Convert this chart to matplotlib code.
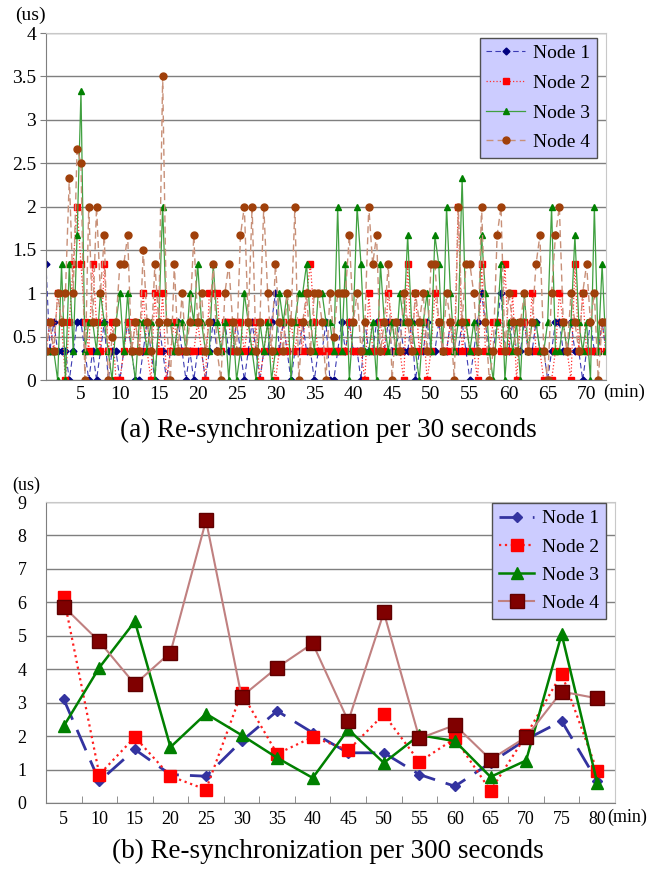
import numpy as np
import matplotlib
matplotlib.use("Agg")
import matplotlib.pyplot as plt

plt.rcParams['font.family'] = ['Liberation Serif', 'DejaVu Serif']

# ---- (a) re-sync every 30 s: offsets, in units of 1/3 us ----
t30 = np.arange(1, 146) * 0.5          # minutes, one sample per 30 s
node1_a = [4, 1, 2, 1, 1, 1, 0, 1, 2, 2,
           1, 0, 1, 0, 1, 2, 0, 1, 1, 0,
           1, 2, 1, 0, 0, 1, 2, 1, 0, 2,
           1, 0, 1, 1, 2, 1, 0, 1, 0, 1,
           1, 0, 1, 2, 1, 1, 2, 1, 1, 2,
           1, 0, 1, 2, 1, 0, 1, 1, 2, 3,
           1, 2, 1, 0, 1, 1, 2, 1, 1, 0,
           1, 1, 2, 0, 0, 1, 2, 1, 2, 1,
           1, 0, 2, 1, 1, 2, 1, 1, 2, 1,
           1, 2, 1, 1, 2, 0, 1, 1, 2, 1,
           1, 2, 1, 1, 2, 1, 1, 2, 1, 0,
           1, 2, 3, 2, 1, 1, 2, 3, 1, 1,
           2, 1, 1, 2, 1, 1, 2, 1, 1, 0,
           1, 2, 2, 1, 1, 2, 1, 1, 0, 1,
           2, 1, 1, 2, 1]
node2_a = [1, 2, 1, 3, 2, 0, 2, 4, 6, 4,
           2, 1, 4, 2, 1, 4, 1, 2, 0, 0,
           1, 2, 1, 2, 1, 3, 1, 0, 3, 1,
           3, 0, 1, 2, 1, 1, 1, 1, 1, 2,
           1, 0, 3, 3, 3, 1, 2, 2, 1, 2,
           2, 1, 2, 1, 2, 0, 1, 2, 1, 0,
           1, 2, 1, 2, 1, 2, 1, 3, 4, 2,
           1, 1, 1, 1, 1, 1, 1, 1, 2, 1,
           1, 1, 0, 3, 1, 1, 2, 1, 3, 2,
           1, 1, 0, 4, 1, 3, 1, 2, 0, 1,
           3, 2, 1, 1, 2, 1, 6, 1, 2, 1,
           1, 0, 4, 1, 1, 2, 2, 1, 4, 1,
           3, 0, 2, 2, 1, 3, 1, 1, 0, 0,
           0, 1, 3, 2, 1, 0, 4, 1, 3, 1,
           1, 1, 1, 2, 1]
node3_a = [1, 1, 1, 0, 4, 0, 4, 1, 5, 10,
           1, 2, 2, 1, 3, 2, 1, 0, 2, 3,
           1, 3, 1, 0, 2, 2, 1, 2, 0, 2,
           6, 2, 2, 1, 2, 2, 1, 3, 2, 4,
           2, 1, 1, 4, 2, 1, 2, 0, 2, 0,
           1, 3, 2, 1, 0, 2, 1, 2, 0, 1,
           3, 2, 3, 0, 2, 3, 3, 4, 2, 1,
           3, 3, 2, 2, 1, 6, 1, 4, 0, 2,
           6, 4, 1, 1, 2, 0, 4, 2, 1, 2,
           1, 3, 2, 5, 2, 1, 0, 2, 3, 1,
           5, 4, 1, 6, 3, 1, 2, 7, 2, 1,
           2, 1, 5, 3, 1, 0, 2, 4, 0, 2,
           1, 2, 0, 3, 1, 2, 2, 1, 1, 2,
           6, 1, 1, 2, 1, 2, 5, 2, 1, 2,
           0, 6, 1, 4, 1]
node4_a = [1, 2, 1, 3, 2, 3, 7, 3, 8, 7.5,
           0, 6, 2, 6, 3, 5, 0, 1.5, 2, 4,
           4, 5, 1, 2, 1, 4.5, 2, 1, 4, 2,
           10.5, 2, 0, 4, 1, 3, 1, 2, 5, 2,
           3, 1, 2, 4, 1, 0, 3, 4, 2, 1,
           5, 6, 2, 6, 1, 2, 6, 3, 1, 4,
           2, 1, 3, 2, 6, 0, 2, 3, 1, 3,
           3, 2, 0, 3, 1.5, 3, 3, 3, 5, 2,
           3, 1, 2, 6, 4, 5, 1, 2, 4, 0,
           2, 1, 3, 2, 1, 3, 2, 3, 1, 4,
           4, 2, 1, 3, 2, 0, 6, 2, 4, 4,
           3, 1, 6, 2, 0, 1, 5, 6, 1, 3,
           2, 1, 2, 3, 1, 2, 4, 5, 1, 0,
           3, 5, 6, 2, 1, 3, 2, 1, 3, 4,
           2, 3, 0, 2, 2]

# ---- (b) re-sync every 300 s ----
t300 = [5, 10, 15, 20, 25, 30, 35, 40, 45, 50, 55, 60, 65, 70, 75, 80]
node1_b = [3.1, 0.65, 1.6, 0.85, 0.8, 1.85, 2.75, 2.1, 1.5, 1.5, 0.85, 0.5, 1.2, 1.9, 2.45, 0.65]
node2_b = [6.15, 0.85, 1.97, 0.8, 0.4, 3.3, 1.47, 1.97, 1.58, 2.65, 1.23, 1.93, 0.37, 2.02, 3.87, 0.95]
node3_b = [2.3, 4.05, 5.43, 1.67, 2.67, 2.03, 1.35, 0.75, 2.2, 1.2, 2.03, 1.85, 0.78, 1.27, 5.05, 0.6]
node4_b = [5.87, 4.83, 3.55, 4.5, 8.45, 3.18, 4.05, 4.77, 2.45, 5.7, 1.93, 2.33, 1.3, 1.97, 3.33, 3.13]

fig = plt.figure(figsize=(6.56, 8.71), dpi=100)

grid_c = '#7f7f7f'
legend_face = '#ccccff'


def style_axes(ax):
    ax.set_axisbelow(True)
    ax.yaxis.grid(True, color=grid_c, lw=1.0)
    ax.spines['left'].set_color(grid_c)
    ax.spines['bottom'].set_color(grid_c)
    ax.spines['top'].set_color('#c8c8c8')
    ax.spines['right'].set_color('#c8c8c8')


# ---------------- chart (a) ----------------
ax1 = fig.add_axes([0.0701, 0.5637, 0.8537, 0.3984])
ax1.plot(t30, np.array(node1_a) / 3, color='#3c3cb4', ls=(0, (5, 3)), lw=0.8,
         marker='D', ms=3.5, mfc='#000080', mec='#000080', label='Node 1')
ax1.plot(t30, np.array(node2_a) / 3, color='#ff3030', ls=':', lw=0.9,
         marker='s', ms=5, mfc='#ff0000', mec='#ff0000', label='Node 2')
ax1.plot(t30, np.array(node3_a) / 3, color='#40a040', ls='-', lw=0.9,
         marker='^', ms=5, mfc='#008000', mec='#008000', label='Node 3')
ax1.plot(t30, np.array(node4_a) / 3, color='#c89078', ls=(0, (5, 3)), lw=1.0,
         marker='o', ms=5, mfc='#a0400a', mec='#a0400a', label='Node 4')
ax1.set_xlim(0.5, 72.5)
ax1.set_ylim(0, 4)
ax1.set_yticks(np.arange(0, 4.01, 0.5))
ax1.set_yticklabels(['0', '0.5', '1', '1.5', '2', '2.5', '3', '3.5', '4'])
ax1.set_xticks(range(5, 71, 5))
ax1.tick_params(axis='x', length=0, labelsize=14, pad=4)
ax1.tick_params(axis='y', length=4, color=grid_c, labelsize=14, pad=3)
style_axes(ax1)
leg1 = ax1.legend(loc='upper right', bbox_to_anchor=(0.984, 0.986), borderaxespad=0,
                  fontsize=14, facecolor=legend_face, edgecolor='#505050', framealpha=1,
                  fancybox=False, handlelength=2.0, handletextpad=0.4, labelspacing=0.62,
                  borderpad=0.35)
leg1.get_frame().set_linewidth(1.0)

fig.text(0.047, 0.982, '(us)', fontsize=14, ha='center', va='center')
fig.text(0.919, 0.549, '(min)', fontsize=13.5, ha='left', va='center')
fig.text(0.5, 0.506, '(a) Re-synchronization per 30 seconds', fontsize=19.5,
         ha='center', va='center')

# ---------------- chart (b) ----------------
ax2 = fig.add_axes([0.0701, 0.0781, 0.8674, 0.3455])
ax2.plot(t300, node1_b, color='#3333a0', ls=(0, (8, 4)), lw=2,
         marker='D', ms=5.5, label='Node 1')
ax2.plot(t300, node2_b, color='#ff2020', ls=':', lw=1.6,
         marker='s', ms=8, mfc='#ff0000', mec='#ff0000', label='Node 2')
ax2.plot(t300, node3_b, color='#008000', ls='-', lw=1.8,
         marker='^', ms=8, label='Node 3')
ax2.plot(t300, node4_b, color='#c08080', ls='-', lw=1.5,
         marker='s', ms=10, mfc='#800000', mec='#600000', label='Node 4')
ax2.set_xlim(2.5, 82.5)
ax2.set_ylim(0, 9)
ax2.set_yticks(range(0, 10))
ax2.set_xticks(t300)
ax2.set_xticks(np.arange(7.5, 80, 5), minor=True)
ax2.tick_params(axis='x', which='major', length=0, labelsize=13, pad=6)
ax2.tick_params(axis='x', which='minor', direction='in', length=5, color=grid_c)
ax2.tick_params(axis='y', length=0, labelsize=13, pad=14)
style_axes(ax2)
leg2 = ax2.legend(loc='upper right', bbox_to_anchor=(0.984, 0.997), borderaxespad=0,
                  fontsize=14, facecolor=legend_face, edgecolor='#505050', framealpha=1,
                  fancybox=False, handlelength=1.8, handletextpad=0.4, labelspacing=0.55,
                  borderpad=0.35)
leg2.get_frame().set_linewidth(1.0)

fig.text(0.040, 0.443, '(us)', fontsize=13, ha='center', va='center')
fig.text(0.926, 0.062, '(min)', fontsize=13, ha='left', va='center')
fig.text(0.5, 0.022, '(b) Re-synchronization per 300 seconds', fontsize=19.5,
         ha='center', va='center')

fig.savefig('out.png', dpi=100)
